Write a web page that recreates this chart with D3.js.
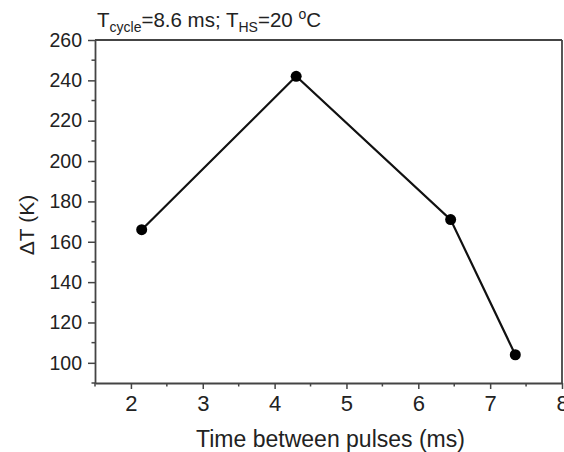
<!DOCTYPE html>
<html>
<head>
<meta charset="utf-8">
<script src="https://cdn.jsdelivr.net/npm/d3@7"></script>
<style>
  body { margin: 0; background: #fff; }
  text { font-family: Arial, "Liberation Sans", sans-serif; fill: #222; }
</style>
</head>
<body>
<div id="chart"></div>
<script>
// time between pulses (ms) vs temperature rise (K)
var timeBetween = [2.15, 4.3, 6.45, 7.35];
var deltaT = [166, 242, 171, 104];
var xTicks = [2, 3, 4, 5, 6, 7, 8];
var yTicks = [100, 120, 140, 160, 180, 200, 220, 240, 260];

var width = 564;
var height = 452;
var margin = {top: 40, right: 2, bottom: 69, left: 95};

var svg = d3.select("#chart").append("svg")
    .attr("width", width)
    .attr("height", height);

var x = d3.scaleLinear().domain([1.5, 8]).range([margin.left, width - margin.right]);
var y = d3.scaleLinear().domain([90, 260]).range([height - margin.bottom, margin.top]);

var axisColor = "#444";

// minor ticks first
var xMinor = d3.range(1.5, 8.01, 0.5).filter(function(d){ return xTicks.indexOf(d) < 0; });
var yMinor = d3.range(90, 261, 10).filter(function(d){ return yTicks.indexOf(d) < 0; });

svg.append("g").selectAll("line").data(xMinor).enter().append("line")
    .attr("x1", function(d){ return x(d); }).attr("x2", function(d){ return x(d); })
    .attr("y1", y(90)).attr("y2", y(90) + 3.5)
    .attr("stroke", axisColor).attr("stroke-width", 1.5);

svg.append("g").selectAll("line").data(yMinor).enter().append("line")
    .attr("x1", x(1.5) - 3.5).attr("x2", x(1.5))
    .attr("y1", function(d){ return y(d); }).attr("y2", function(d){ return y(d); })
    .attr("stroke", axisColor).attr("stroke-width", 1.5);

var xAxis = svg.append("g")
    .attr("transform", "translate(0," + y(90) + ")")
    .call(d3.axisBottom(x).tickValues(xTicks).tickFormat(d3.format("d"))
      .tickSize(6).tickPadding(6).tickSizeOuter(0));

var yAxis = svg.append("g")
    .attr("transform", "translate(" + x(1.5) + ",0)")
    .call(d3.axisLeft(y).tickValues(yTicks).tickFormat(d3.format("d"))
      .tickSize(7).tickPadding(6).tickSizeOuter(0));

[xAxis, yAxis].forEach(function(g){
  g.select(".domain").attr("stroke", axisColor).attr("stroke-width", 1.8);
  g.selectAll(".tick line").attr("stroke", axisColor).attr("stroke-width", 1.5);
  g.selectAll(".tick text").attr("fill", "#222")
    .style("font-family", "Arial, 'Liberation Sans', sans-serif");
});
xAxis.selectAll(".tick text").style("font-size", "22px");
yAxis.selectAll(".tick text").style("font-size", "19.5px");

// top and right frame
svg.append("line")
    .attr("x1", x(1.5)).attr("x2", x(8)).attr("y1", y(260)).attr("y2", y(260))
    .attr("stroke", axisColor).attr("stroke-width", 1.8);
svg.append("line")
    .attr("x1", x(8)).attr("x2", x(8)).attr("y1", y(260)).attr("y2", y(90))
    .attr("stroke", axisColor).attr("stroke-width", 1.8);

// data line and markers
var points = timeBetween.map(function(t, i){ return {t: t, v: deltaT[i]}; });

svg.append("path")
    .datum(points)
    .attr("fill", "none")
    .attr("stroke", "#111")
    .attr("stroke-width", 2.2)
    .attr("d", d3.line().x(function(d){ return x(d.t); }).y(function(d){ return y(d.v); }));

svg.selectAll("circle.pt").data(points).enter().append("circle")
    .attr("class", "pt")
    .attr("cx", function(d){ return x(d.t); })
    .attr("cy", function(d){ return y(d.v); })
    .attr("r", 5.5)
    .attr("fill", "#000");

// axis titles
svg.append("text")
    .attr("x", (x(1.5) + x(8)) / 2 + 2)
    .attr("y", 447)
    .attr("text-anchor", "middle")
    .style("font-size", "23px")
    .text("Time between pulses (ms)");

svg.append("text")
    .attr("transform", "translate(34,225) rotate(-90)")
    .attr("text-anchor", "middle")
    .style("font-size", "21px")
    .text("\u0394T (K)");

// condition label on top
var title = svg.append("text")
    .attr("x", 97)
    .attr("y", 27)
    .style("font-size", "20.5px");
title.append("tspan").text("T");
title.append("tspan").attr("dy", 5).style("font-size", "14px").text("cycle");
title.append("tspan").attr("dy", -5).text("=8.6 ms; T");
title.append("tspan").attr("dy", 5).style("font-size", "14px").text("HS");
title.append("tspan").attr("dy", -5).text("=20 ");
title.append("tspan").attr("dy", -8).style("font-size", "14px").text("o");
title.append("tspan").attr("dy", 8).text("C");
</script>
</body>
</html>
